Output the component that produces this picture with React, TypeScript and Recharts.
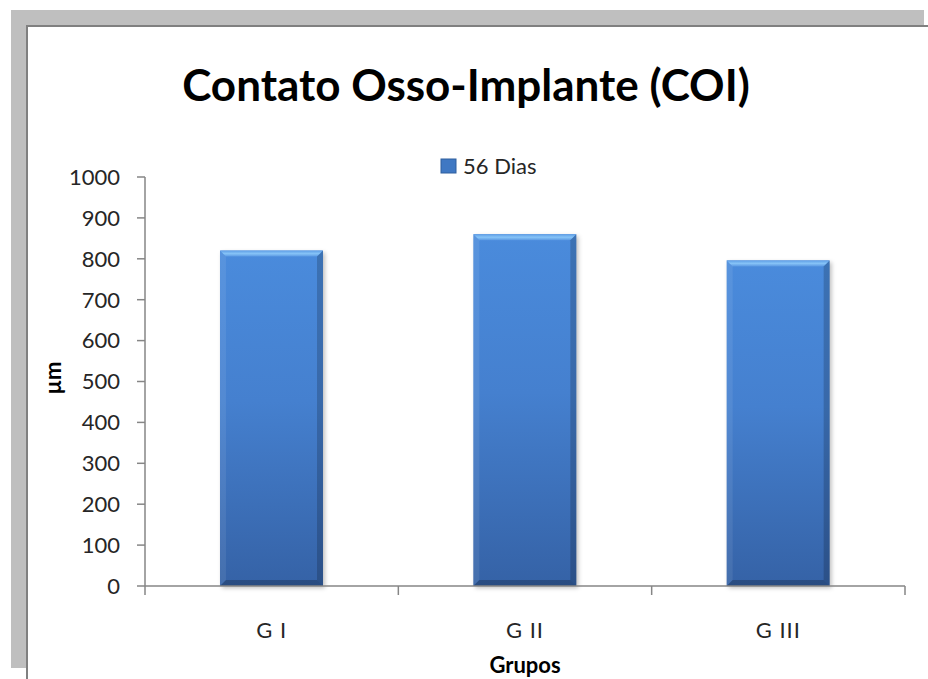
import React from 'react';
import { BarChart, Bar, XAxis, YAxis } from 'recharts';

const categories = ['G I', 'G II', 'G III'];
const values56 = [820, 860, 796];
const yTicks = [0, 100, 200, 300, 400, 500, 600, 700, 800, 900, 1000];
const seriesName = '56 Dias';
const title = 'Contato Osso-Implante (COI)';
const xTitle = 'Grupos';
const yTitle = 'µm';

const data = categories.map((c, i) => ({ name: c, v: values56[i] }));

const W = 928;
const H = 679;
const margin = { top: 177, right: 23, bottom: 23, left: 85 };
const Y_W = 60;
const X_H = 70;
const plotW = W - margin.left - Y_W - margin.right;
const band = plotW / categories.length;
const FONT = 'Lato, "Open Sans", sans-serif';
const AXIS = '#868686';

const BevelBar = (props: any) => {
  const { x, y, width: w, height: h, index } = props;
  if (w == null || h == null || h <= 0) return null;
  const b = 6;
  const id = `g${index}`;
  return (
    <g>
      <defs>
        <linearGradient id={`${id}v`} x1="0" y1="0" x2="0" y2="1">
          <stop offset="0%" stopColor="#4A8BDC" />
          <stop offset="45%" stopColor="#4580CF" />
          <stop offset="100%" stopColor="#3562A6" />
        </linearGradient>
        <linearGradient id={`${id}t`} x1="0" y1="0" x2="0" y2="1">
          <stop offset="0%" stopColor="#5E9EE6" />
          <stop offset="50%" stopColor="#86C3F7" />
          <stop offset="100%" stopColor="#5A98E2" />
        </linearGradient>
        <filter id={`${id}s`} x="-10%" y="-10%" width="130%" height="130%">
          <feGaussianBlur stdDeviation="2" />
        </filter>
      </defs>
      <rect x={x + 2} y={y + 2} width={w} height={h} fill="rgba(0,0,0,0.25)" filter={`url(#${id}s)`} />
      <rect x={x} y={y} width={w} height={h} fill={`url(#${id}v)`} />
      <polygon points={`${x},${y} ${x + w},${y} ${x + w - b},${y + b} ${x + b},${y + b}`} fill={`url(#${id}t)`} />
      <polygon points={`${x},${y} ${x + b},${y + b} ${x + b},${y + h - b} ${x},${y + h}`} fill="rgba(255,255,255,0.08)" />
      <polygon points={`${x + w},${y} ${x + w - b},${y + b} ${x + w - b},${y + h - b} ${x + w},${y + h}`} fill="rgba(0,0,0,0.18)" />
      <polygon points={`${x},${y + h} ${x + b},${y + h - b} ${x + w - b},${y + h - b} ${x + w},${y + h}`} fill="rgba(0,0,0,0.22)" />
    </g>
  );
};

const XTick = (props: any) => {
  const { x, y, payload, index } = props;
  const left = x - band / 2;
  const right = x + band / 2;
  return (
    <g>
      <line x1={left} y1={y} x2={left} y2={y + 9} stroke={AXIS} strokeWidth={1.5} />
      {index === categories.length - 1 && (
        <line x1={right} y1={y} x2={right} y2={y + 9} stroke={AXIS} strokeWidth={1.5} />
      )}
      <text x={x} y={y + 52} textAnchor="middle" fontFamily={FONT} fontSize={22} fill="#262626" letterSpacing={1}>
        {payload.value}
      </text>
    </g>
  );
};

export default function App() {
  return (
    <div style={{ position: 'absolute', left: 0, top: 0, width: W, height: H, background: '#fff', overflow: 'hidden' }}>
      <div style={{ position: 'absolute', left: 11, top: 10, width: 913, height: 658, background: '#BFBFBF' }} />
      <div
        style={{
          position: 'absolute',
          left: 26,
          top: 25,
          width: 902,
          height: 654,
          background: '#fff',
          borderLeft: '2px solid #808080',
          borderTop: '2px solid #808080',
          boxSizing: 'border-box',
        }}
      />
      <div style={{ position: 'absolute', left: 0, top: 0 }}>
        <BarChart width={W} height={H} data={data} margin={margin} barCategoryGap="29.6%">
          <XAxis
            dataKey="name"
            height={X_H}
            tickLine={false}
            tickSize={0}
            tickMargin={0}
            axisLine={{ stroke: AXIS, strokeWidth: 1.5 }}
            tick={<XTick />}
            interval={0}
          />
          <YAxis
            width={Y_W}
            domain={[0, 1000]}
            ticks={yTicks}
            interval={0}
            tickSize={8}
            tickMargin={17}
            axisLine={{ stroke: AXIS, strokeWidth: 1.5 }}
            tickLine={{ stroke: AXIS, strokeWidth: 1.5 }}
            tick={{ fontFamily: FONT, fontSize: 22, fill: '#262626' }}
          />
          <Bar dataKey="v" name={seriesName} shape={<BevelBar />} isAnimationActive={false} />
        </BarChart>
      </div>
      <svg width={W} height={H} style={{ position: 'absolute', left: 0, top: 0, pointerEvents: 'none' }}>
        <text x={466} y={101} textAnchor="middle" fontFamily={FONT} fontWeight="bold" fontSize={44} fill="#000">
          {title}
        </text>
        <rect x={441} y={159} width={15} height={14} fill="#3F78C3" stroke="#2F5F9E" strokeWidth={1} />
        <text x={463} y={174} fontFamily={FONT} fontSize={22} fill="#262626">
          {seriesName}
        </text>
        <text x={525} y={673} textAnchor="middle" fontFamily={FONT} fontWeight="bold" fontSize={22} fill="#000">
          {xTitle}
        </text>
        <text
          x={61}
          y={378}
          textAnchor="middle"
          transform="rotate(-90 61 378)"
          fontFamily={FONT}
          fontWeight="bold"
          fontSize={22}
          fill="#000"
        >
          {yTitle}
        </text>
      </svg>
    </div>
  );
}
